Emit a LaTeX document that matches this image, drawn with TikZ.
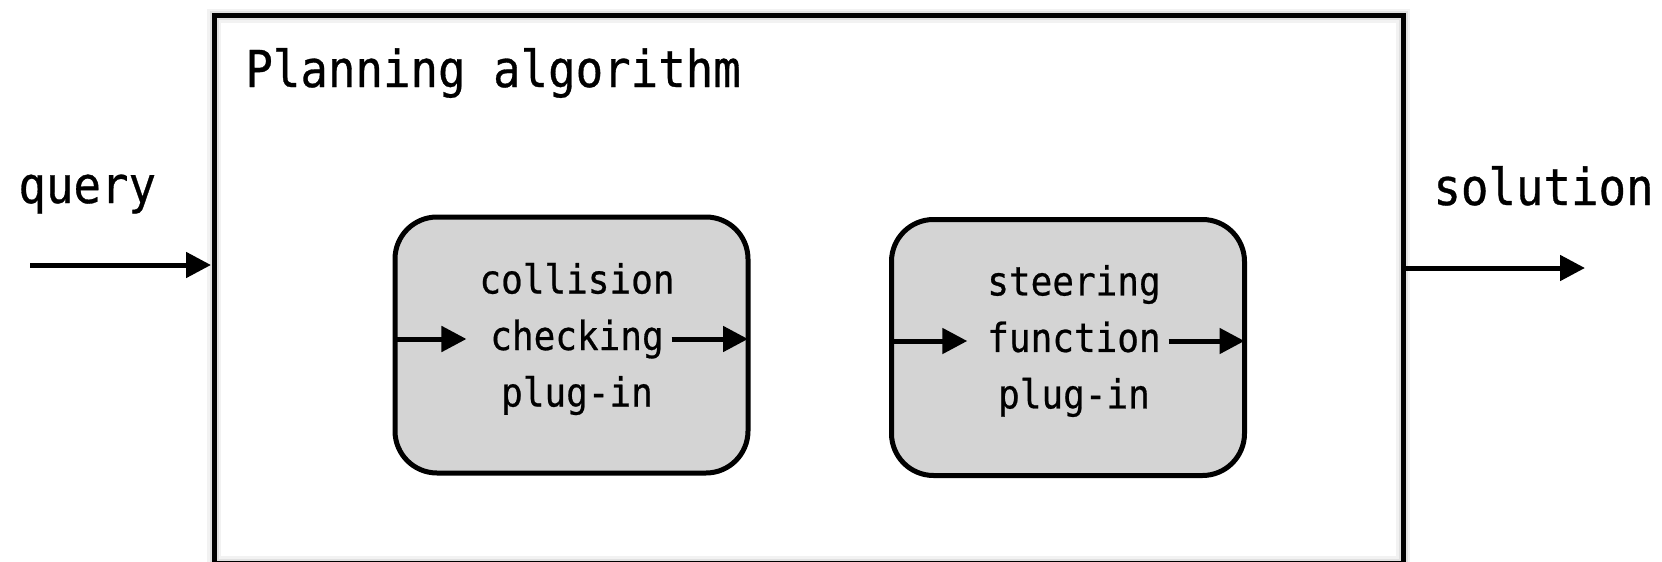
\documentclass[tikz,border=0pt]{standalone}
\usepackage{fontspec}
\usetikzlibrary{arrows.meta}
\newfontfamily\mono[FakeStretch=0.9,FakeBold=0.6]{DejaVu Sans Mono}
\definecolor{plugfill}{HTML}{D4D4D4}
\begin{document}
\begin{tikzpicture}[x=0.5pt,y=-0.5pt,
  edge/.style={line width=2.5pt,-{Triangle[length=12.5pt,width=12.5pt]}},
  plugbox/.style={draw,line width=2.5pt,fill=plugfill,rounded corners=21pt,
    minimum width=176.5pt,minimum height=128pt,inner sep=0pt,outer sep=0pt},
  plugtext/.style={align=center,font=\mono\fontsize{20}{28.25}\selectfont,
    inner sep=2.5pt,outer sep=0pt},
  tag/.style={font=\mono\fontsize{25.4}{30}\selectfont,inner sep=0pt,anchor=base west}]
  \useasboundingbox (0,0) rectangle (1662,562);
  \fill[white] (0,0) rectangle (1662,562);

  % outer frame with a soft halo
  \node[minimum width=594.5pt,minimum height=273.75pt,inner sep=0pt,outer sep=0pt]
    (main) at (808.5,289.25) {};
  \draw[line width=7pt,black,opacity=0.05] (main.north west) rectangle (main.south east);
  \draw[line width=4.5pt,black,opacity=0.07] (main.north west) rectangle (main.south east);
  \draw[line width=2.5pt] (main.north west) rectangle (main.south east);

  \node[tag] (title) at (245,87) {Planning algorithm};
  \node[tag] (query) at (18,203) {query};
  \node[tag] (sol) at (1433,205) {solution};

  % input and output
  \coordinate (qin) at (30,265);
  \coordinate (sout) at (1585,268);
  \draw[edge,shorten >=1.5pt] (qin) -- (qin -| main.west);
  \draw[edge] (main.east |- sout) -- (sout);

  % collision checking plug-in
  \node[plugbox] (cbox) at (571.5,345) {};
  \node[plugtext] (ctext) at (577,339) {collision\\checking\\plug-in};
  \draw[edge] (cbox.west |- ctext.west) -- ([xshift=-4pt]ctext.west);
  \draw[edge] ([xshift=-4pt]ctext.east) -- (ctext.east -| cbox.east);

  % steering function plug-in
  \node[plugbox] (sbox) at (1068,347.5) {};
  \node[plugtext] (stext) at (1074,341) {steering\\function\\plug-in};
  \draw[edge] (sbox.west |- stext.west) -- ([xshift=-7.5pt]stext.west);
  \draw[edge] ([xshift=1.5pt]stext.east) -- (stext.east -| sbox.east);
\end{tikzpicture}
\end{document}
